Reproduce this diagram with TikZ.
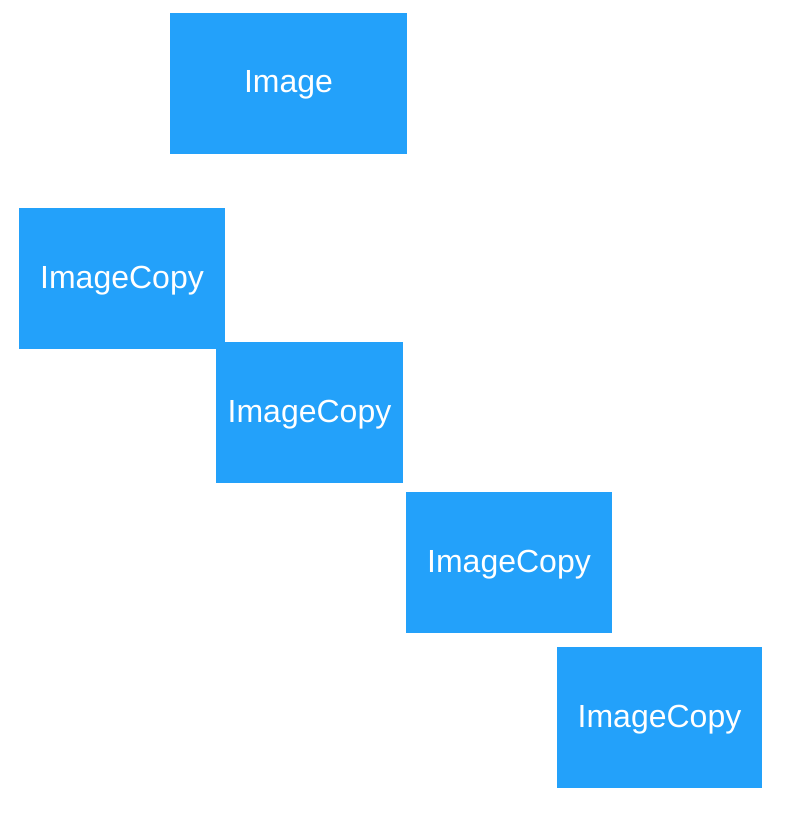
\documentclass[tikz,border=0pt]{standalone}
\usepackage{fontspec}
\setmainfont{Liberation Sans}
\definecolor{copyblue}{RGB}{35,161,250}

\begin{document}
\begin{tikzpicture}[x=1pt,y=-1pt,
	imgbox/.style={rectangle, fill=copyblue, text=white, inner sep=0pt,
		minimum width=206pt, minimum height=141pt,
		text height=20pt, text depth=0pt,
		font=\fontsize{32}{36}\selectfont}]
	
	\useasboundingbox (0,0) rectangle (794,827);
	
	\node[imgbox, minimum width=237pt, text height=17pt] (img) at (288.5,83.5) {Image};
	\node[imgbox]                       (copyA) at (122,278.5)  {ImageCopy};
	\node[imgbox, minimum width=187pt]  (copyB) at (309.5,412)  {ImageCopy};
	\node[imgbox]                       (copyC) at (509,562)    {ImageCopy};
	\node[imgbox, minimum width=205pt]  (copyD) at (659.5,717.5) {ImageCopy};
	
\end{tikzpicture}
\end{document}
